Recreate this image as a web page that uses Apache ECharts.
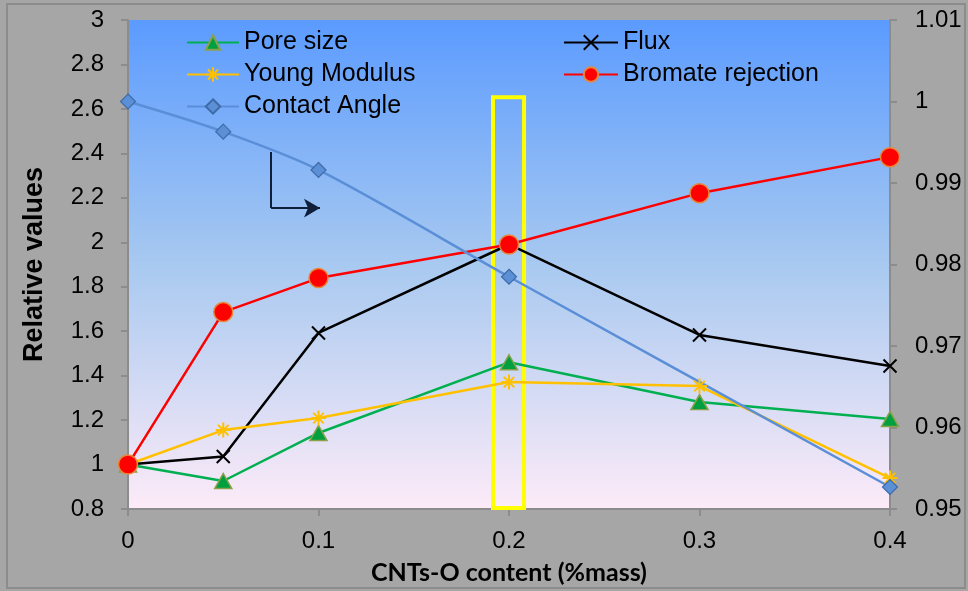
<!DOCTYPE html>
<html>
<head>
<meta charset="utf-8">
<script src="https://cdn.jsdelivr.net/npm/echarts@6/dist/echarts.min.js"></script>
<style>
html,body{margin:0;padding:0;background:#a6a6a6;}
#c{width:968px;height:591px;}
</style>
</head>
<body>
<div id="c"></div>
<script>
// ---- data ----
var xValues = [0, 0.05, 0.1, 0.2, 0.3, 0.4];
var poreSize = [1, 0.926, 1.142, 1.46, 1.281, 1.205];
var flux = [1, 1.036, 1.592, 1.99, 1.583, 1.443];
var youngModulus = [1, 1.155, 1.209, 1.371, 1.353, 0.939];
var bromateRejection = [1, 1.686, 1.839, 1.99, 2.221, 2.383];
var contactX = [0, 0.05, 0.1, 0.2, 0.4];
var contactAngle = [1.0, 0.9963, 0.9916, 0.9785, 0.9527];
var leftTicks = {min: 0.8, max: 3, interval: 0.2};
var rightTicks = {min: 0.95, max: 1.01, interval: 0.01};
var xTicks = {min: 0, max: 0.4, interval: 0.1};
// annotation positions (data coords)
var highlightBox = [[0.1916, 0.805], [0.2079, 2.652]];
var arrowPath = [[0.0751, 2.406], [0.0751, 2.154], [0.1008, 2.154]];

function pairs(xs, ys){ return xs.map(function(x,i){ return [x, ys[i]]; }); }
function fmt(v){ return String(Number(v.toFixed(3))); }

var chart = echarts.init(document.getElementById('c'));
var tickFont = {fontFamily: 'Liberation Sans', fontSize: 24, color: '#000'};
var xPath = 'path://M0,0 L10,10 M10,0 L0,10';
var starPath = 'path://M0,5 L10,5 M5,0 L5,10 M1.5,1.5 L8.5,8.5 M8.5,1.5 L1.5,8.5';

var option = {
  backgroundColor: '#a6a6a6',
  animation: false,
  graphic: [{
    type: 'rect', silent: true, z: -1,
    shape: {x: 7, y: 4, width: 958, height: 584},
    style: {fill: 'none', stroke: '#8c8c8c', lineWidth: 2}
  }],
  grid: {
    left: 128, right: 78, top: 20, bottom: 82,
    show: true, borderWidth: 0,
    backgroundColor: new echarts.graphic.LinearGradient(0, 0, 0, 1, [
      {offset: 0, color: '#5b9bff'},
      {offset: 0.5, color: '#a8c9f0'},
      {offset: 1, color: '#fdebf8'}
    ])
  },
  legend: [{
    data: ['Pore size', 'Young Modulus', 'Contact Angle'],
    orient: 'vertical', left: 181, top: 25,
    itemWidth: 52, itemHeight: 18, itemGap: 7,
    textStyle: {fontFamily: 'Liberation Sans', fontSize: 25, color: '#000', lineHeight: 25}
  }, {
    data: ['Flux', 'Bromate rejection'],
    orient: 'vertical', left: 558, top: 25,
    itemWidth: 54, itemHeight: 18, itemGap: 7,
    textStyle: {fontFamily: 'Liberation Sans', fontSize: 25, color: '#000', lineHeight: 25}
  }],
  xAxis: {
    type: 'value', min: xTicks.min, max: xTicks.max, interval: xTicks.interval,
    name: 'CNTs-O content (%mass)', nameLocation: 'middle', nameGap: 51,
    nameTextStyle: {fontFamily: 'Lato', fontWeight: 'bold', fontSize: 25, color: '#000'},
    axisLine: {show: true, lineStyle: {color: '#8c8c8c', width: 2}},
    axisTick: {show: true, inside: false, length: 7, lineStyle: {color: '#8c8c8c', width: 2}},
    axisLabel: Object.assign({margin: 20, formatter: fmt}, tickFont),
    splitLine: {show: false}
  },
  yAxis: [{
    type: 'value', min: leftTicks.min, max: leftTicks.max, interval: leftTicks.interval,
    name: 'Relative values', nameLocation: 'middle', nameGap: 80, nameRotate: 90,
    nameTextStyle: {fontFamily: 'Liberation Sans', fontWeight: 'bold', fontSize: 27, color: '#000'},
    axisLine: {show: true, lineStyle: {color: '#8c8c8c', width: 2}},
    axisTick: {show: true, inside: false, length: 7, lineStyle: {color: '#8c8c8c', width: 2}},
    axisLabel: Object.assign({margin: 24, formatter: fmt}, tickFont),
    splitLine: {show: false}
  }, {
    type: 'value', position: 'right', min: rightTicks.min, max: rightTicks.max, interval: rightTicks.interval,
    axisLine: {show: true, lineStyle: {color: '#8c8c8c', width: 2}},
    axisTick: {show: true, inside: false, length: 7, lineStyle: {color: '#8c8c8c', width: 2}},
    axisLabel: Object.assign({margin: 25, formatter: fmt}, tickFont),
    splitLine: {show: false}
  }],
  series: [{
    name: 'Pore size', type: 'line', yAxisIndex: 0,
    data: pairs(xValues, poreSize),
    symbol: 'triangle', symbolSize: [17, 15],
    lineStyle: {color: '#00b050', width: 2.5},
    itemStyle: {color: '#00a040', borderColor: '#8aa04a', borderWidth: 1.5},
    emphasis: {disabled: true},
    markArea: {
      silent: true,
      itemStyle: {color: 'rgba(0,0,0,0)', borderColor: '#ffff00', borderWidth: 4},
      data: [[{coord: highlightBox[0]}, {coord: highlightBox[1]}]]
    },
    markLine: {
      silent: true, animation: false,
      lineStyle: {color: '#0f1f3a', width: 2, type: 'solid'},
      label: {show: false},
      symbolSize: [14, 16],
      data: [
        [{coord: arrowPath[0], symbol: 'none'}, {coord: arrowPath[1], symbol: 'none'}],
        [{coord: arrowPath[1], symbol: 'none'}, {coord: arrowPath[2], symbol: 'arrow'}]
      ]
    }
  }, {
    name: 'Flux', type: 'line', yAxisIndex: 0,
    data: pairs(xValues, flux),
    symbol: xPath, symbolSize: 13,
    lineStyle: {color: '#000', width: 2.5},
    itemStyle: {color: 'none', borderColor: '#000', borderWidth: 2},
    emphasis: {disabled: true}
  }, {
    name: 'Young Modulus', type: 'line', yAxisIndex: 0,
    data: pairs(xValues, youngModulus),
    symbol: starPath, symbolSize: 15,
    lineStyle: {color: '#ffc000', width: 2.5},
    itemStyle: {color: 'none', borderColor: '#ffc000', borderWidth: 2},
    emphasis: {disabled: true}
  }, {
    name: 'Bromate rejection', type: 'line', yAxisIndex: 0,
    data: pairs(xValues, bromateRejection),
    symbol: 'circle', symbolSize: 19,
    lineStyle: {color: '#ff0000', width: 2.5},
    itemStyle: {color: '#ff0000', borderColor: '#e8863a', borderWidth: 1.5},
    emphasis: {disabled: true}
  }, {
    name: 'Contact Angle', type: 'line', yAxisIndex: 1, smooth: 0.3,
    data: pairs(contactX, contactAngle),
    symbol: 'diamond', symbolSize: 15,
    lineStyle: {color: '#5a8fd8', width: 2.5},
    itemStyle: {color: '#5b8fd6', borderColor: '#3e6ba8', borderWidth: 1.2},
    emphasis: {disabled: true}
  }]
};
chart.setOption(option);
</script>
</body>
</html>
